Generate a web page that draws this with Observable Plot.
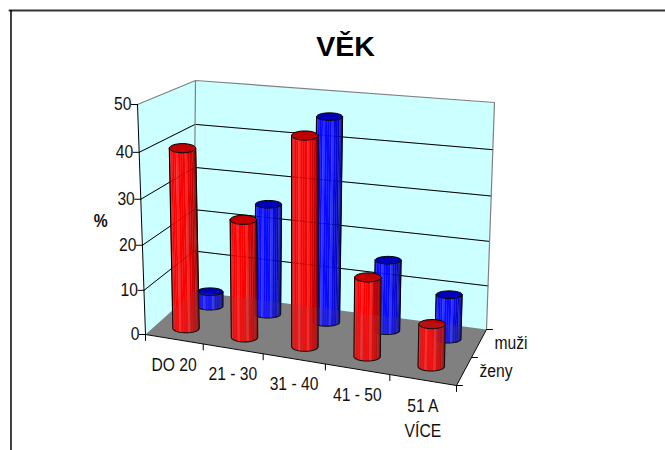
<!DOCTYPE html>
<html><head><meta charset="utf-8">
<script src="https://cdn.jsdelivr.net/npm/d3@7"></script>
<script src="https://cdn.jsdelivr.net/npm/@observablehq/plot@0.6"></script>
<style>html,body{margin:0;padding:0;background:#fff}svg{display:block}</style>
</head><body><div id="chart"></div>
<script>
const chartTitle = "VĚK";
const categories = ["DO 20", "21 - 30", "31 - 40", "41 - 50", "51 A\nVÍCE"];
const seriesNames = ["ženy", "muži"];
const zeny = [40, 26, 45, 17, 9];
const muzi = [3.5, 25.5, 46, 16, 10];
const valueTicks = [0, 10, 20, 30, 40, 50];
const valueLabel = "%";

// Box of the 3D chart as seen on the page
const box = {
  a000:[145,334], a100:[456,385], a010:[193,291], a110:[486,329],
  a001:[137,104], a101:[461,131], a011:[195,80], a111:[494,102]
};
const lerp = (a,b,t)=>[a[0]+(b[0]-a[0])*t, a[1]+(b[1]-a[1])*t];
// u: 0..1 along categories, v: 0..1 depth, w: value (slight perspective on u and w)
function P(u,v,w){
  const s = u*(1-.09*(1-.6*v)*(1-u));
  const r = w/50, t = r*(1-.05*(1-r));
  const f0 = lerp(box.a000,box.a100,s), f1 = lerp(box.a001,box.a101,s);
  const b0 = lerp(box.a010,box.a110,s), b1 = lerp(box.a011,box.a111,s);
  return lerp(lerp(f0,f1,t), lerp(b0,b1,t), v);
}
let pid = 0;
function poly(list, pts, fill){ const id = pid++; for (const p of [...pts, pts[0]]) list.push({x:p[0],y:p[1],id,fill}); }
const open = (list,pts)=>{ const id = pid++; for (const p of pts) list.push({x:p[0],y:p[1],id}); };

const floor=[], walls=[], gridLines=[], grayEdges=[], blackEdges=[];
poly(floor,[P(0,0,0),P(1,0,0),P(1,1,0),P(0,1,0)],"#808080");
poly(walls,[P(0,0,0),P(0,1,0),P(0,1,50),P(0,0,50)],"#ccffff");
poly(walls,[P(0,1,0),P(1,1,0),P(1,1,50),P(0,1,50)],"#ccffff");
for (const w of valueTicks.slice(1,-1)) open(gridLines,[P(0,0,w),P(0,1,w),P(1,1,w)]);
open(grayEdges,[P(0,0,50),P(0,1,50),P(1,1,50),P(1,1,0)]);
open(grayEdges,[P(0,1,50),P(0,1,0)]);
open(blackEdges,[P(0,0,0),P(0,0,50)]);
open(blackEdges,[P(0,0,0),P(1,0,0),P(1,1,0)]);
for (const w of valueTicks){const p=P(0,0,w); open(blackEdges,[p,[p[0]-6,p[1]]]);}
for (let i=0;i<=categories.length;i++){const p=P(i/categories.length,0,0); open(blackEdges,[p,[p[0],p[1]+6]]);}
for (let i=0;i<=seriesNames.length;i++){const p=P(1,i/seriesNames.length,0); open(blackEdges,[p,[p[0]+6,p[1]]]);}

const pal = {
  red:{rgb:[255,0,0], top:"#c00000"},
  blue:{rgb:[10,10,255], top:"#0000b8"}
};
function shade(t,c){
  // t -1..1 across the visible side
  let k = t<-0.7 ? 0.88+(t+1)*0.4 : t<0.0 ? 1 : t<0.45 ? 1-t*0.25 : 0.89-(t-0.45)*0.55;
  return `rgb(${c.map(v=>Math.round(v*k))})`;
}
const N=18;
const barParts=[];
function bar(i,v,val,color,rx,ry){
  const u=(i+.5)/categories.length;
  const b=P(u,v,0), t=P(u,v,val);
  const edge=(c,a)=>[c[0]-rx*Math.cos(a), c[1]+ry*Math.sin(a)];
  const strips=[], outline=[], top=[];
  for(let k=0;k<N;k++){
    const a0=Math.PI*k/N,a1=Math.PI*(k+1)/N;
    const tt=-Math.cos((a0+a1)/2);
    let col=shade(tt,pal[color].rgb);
    if(k%4===2) col=d3.interpolateRgb(col,"#fff")(tt<0.3?0.16:0.08);
    poly(strips,[edge(t,a0),edge(t,a1),edge(b,a1),edge(b,a0)],col);
  }
  const low=[];
  for(let k=0;k<=N;k++) low.push(edge(b,Math.PI*k/N));
  open(outline,[edge(t,0),...low,edge(t,Math.PI)]);
  const ring=[]; for(let k=0;k<32;k++){ring.push(edge(t,2*Math.PI*k/32));}
  poly(top,ring,pal[color].top);
  barParts.push({strips,outline,top});
}
muzi.forEach((d,i)=>bar(i,.75,d,"blue",13,3.8));
zeny.forEach((d,i)=>bar(i,.25,d,"red",13.2,4.6));

const catLabels = categories.map((c,i)=>{const p=P((i+.5)/categories.length,0,0);return {label:c,x:p[0],y:p[1]};});
const serLabels = seriesNames.map((c,i)=>{const p=P(1,(i+.5)/seriesNames.length,0);return {label:c,x:p[0],y:p[1]};});
const valLabels = valueTicks.map(w=>{const p=P(0,0,w);return {label:String(w),x:p[0],y:p[1]};});
const axisP = P(0,0,25);

const font='"Liberation Sans",sans-serif';
const lineMark=(data,o)=>Plot.line(data,{x:"x",y:"y",z:"id",curve:"linear",...o});

const frameTop=[[9,10],[665,10]].map(p=>({x:p[0],y:p[1],id:"t"}));
const frameLeft=[[10.5,10],[10.5,450]].map(p=>({x:p[0],y:p[1],id:"l"}));

const chart = Plot.plot({
  width:665,height:450,margin:0,
  style:{background:"#fff",fontFamily:font},
  x:{domain:[0,665],range:[0,665],axis:null},
  y:{domain:[0,450],range:[0,450],axis:null},
  color:{type:"identity"},
  marks:[
    lineMark(frameTop,{stroke:"#333",strokeWidth:2}),
    lineMark(frameLeft,{stroke:"#000",strokeWidth:1.5}),
    lineMark(walls,{fill:"fill",stroke:"none"}),
    lineMark(floor,{fill:"fill",stroke:"none"}),
    lineMark(gridLines,{stroke:"#000",strokeWidth:1}),
    lineMark(grayEdges,{stroke:"#808080",strokeWidth:1.2}),
    lineMark(blackEdges,{stroke:"#000",strokeWidth:1}),
    ...barParts.flatMap(b=>[
      lineMark(b.strips,{fill:"fill",stroke:"fill",strokeWidth:.3}),
      lineMark(b.outline,{stroke:"#000",strokeWidth:1.1}),
      lineMark(b.top,{fill:"fill",stroke:"#000",strokeWidth:1})
    ]),
    lineMark(gridLines,{stroke:"#000",strokeOpacity:.1,strokeWidth:1}),
    lineMark(floor,{fill:"#808080",fillOpacity:.13,stroke:"none"}),
    Plot.text(valLabels,{x:"x",y:"y",text:"label",textAnchor:"end",dx:-6,fontSize:18,fill:"#111",className:"narrow"}),
    Plot.text(catLabels,{x:"x",y:"y",text:"label",dx:0,dy:13.5,lineAnchor:"top",lineHeight:1.42,fontSize:18,fill:"#111",className:"narrow"}),
    Plot.text(serLabels,{x:"x",y:"y",text:"label",textAnchor:"start",dx:15.5,fontSize:18,fill:"#111",className:"narrow"}),
    Plot.text([valueLabel],{x:()=>axisP[0],y:()=>axisP[1],text:d=>d,dx:-41,dy:-1,fontSize:18,fontWeight:"bold",fill:"#111",className:"narrow"}),
    Plot.text([chartTitle],{x:()=>345,y:()=>46.5,text:d=>d,fontSize:28.5,fontWeight:"bold",fill:"#000",fontFamily:font})
  ]
});
// Arial Narrow look: condense the labels horizontally around their anchor
d3.select(chart).selectAll("g.narrow text").attr("transform",function(){
  const tr=this.getAttribute("transform")||"";
  return tr+" scale(.87,1)";
});
document.getElementById("chart").append(chart);
</script></body></html>
